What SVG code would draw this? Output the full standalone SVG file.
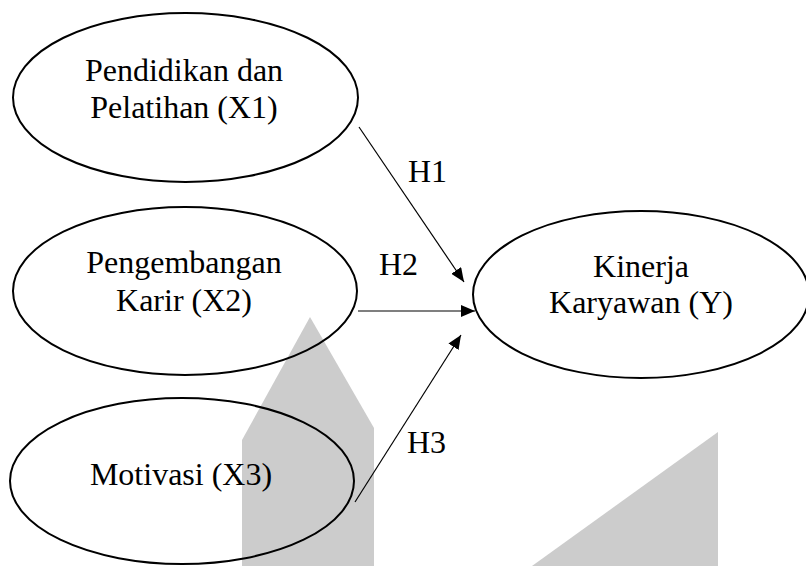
<svg xmlns="http://www.w3.org/2000/svg" width="806" height="566" viewBox="0 0 806 566">
<style>
.wm{fill:#cccccc;stroke:none}
.node ellipse{fill:none;stroke:#000;stroke-width:2}
.node text{text-anchor:middle}
.conn line{stroke:#000;stroke-width:1.2}
</style>
<defs>
<marker id="ah" markerWidth="14" markerHeight="12" refX="14" refY="6" orient="auto" markerUnits="userSpaceOnUse">
<path d="M0,0 L14,6 L0,12 Z" fill="#000"/>
</marker>
</defs>
<rect width="806" height="566" fill="#fff"/>
<g id="watermark">
<polygon class="wm" points="242,566 242,440 310,317 310,566"/>
<polygon class="wm" points="310,317 374,428 374,566 310,566"/>
<polygon class="wm" points="532,566 718,432 718,566"/>
</g>
<g font-family="Liberation Serif, Times New Roman, serif" font-size="32" fill="#000">
<g id="x1" class="node">
<ellipse cx="185.5" cy="97.5" rx="172.5" ry="84.5"/>
<text x="184" y="81">Pendidikan dan</text>
<text x="184" y="118">Pelatihan (X1)</text>
</g>
<g id="x2" class="node">
<ellipse cx="185" cy="291" rx="172" ry="84"/>
<text x="184" y="273">Pengembangan</text>
<text x="184" y="311">Karir (X2)</text>
</g>
<g id="x3" class="node">
<ellipse cx="182" cy="481" rx="172" ry="83"/>
<text x="181" y="485">Motivasi (X3)</text>
</g>
<g id="y" class="node">
<ellipse cx="641" cy="294.5" rx="168" ry="83.5"/>
<text x="641" y="277">Kinerja</text>
<text x="641" y="313">Karyawan (Y)</text>
</g>
<g id="connectors" class="conn">
<line x1="359" y1="127" x2="464" y2="282" marker-end="url(#ah)"/>
<line x1="358" y1="311" x2="475" y2="311" marker-end="url(#ah)"/>
<line x1="355" y1="502" x2="461" y2="335" marker-end="url(#ah)"/>
<text x="408" y="182">H1</text>
<text x="379" y="275">H2</text>
<text x="407" y="453">H3</text>
</g>
</g>
</svg>
